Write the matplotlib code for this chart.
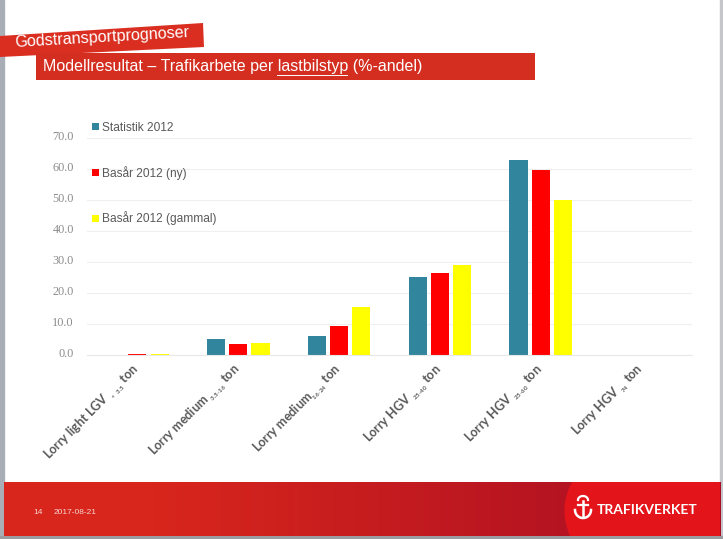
import numpy as np
import matplotlib
matplotlib.use("Agg")
import matplotlib.pyplot as plt
from matplotlib.patches import Polygon, PathPatch, Rectangle
from matplotlib.path import Path
from matplotlib.transforms import ScaledTranslation

# data
categories = ["Lorry light LGV $_{_{<\\ 3.5}}$ ton",
              "Lorry medium $_{_{3.5\\text{-}16}}$ ton",
              "Lorry medium$_{_{16\\text{-}24}}$ ton",
              "Lorry HGV $_{_{25\\text{-}40}}$ ton",
              "Lorry HGV $_{_{25\\text{-}60}}$ ton",
              "Lorry HGV $_{_{74}}$ ton"]
statistik = [0.0, 5.3, 6.2, 25.0, 62.7, 0.0]
basar_ny = [0.4, 3.5, 9.4, 26.5, 59.7, 0.0]
basar_gammal = [0.3, 4.0, 15.3, 29.0, 50.0, 0.0]
yticks = [0, 10, 20, 30, 40, 50, 60, 70]

W, H = 723, 539
plt.rcParams['mathtext.default'] = 'regular'
fig = plt.figure(figsize=(W / 100, H / 100), dpi=100)

# slide background, pixel coordinates
bg = fig.add_axes([0, 0, 1, 1], zorder=0)
bg.set_xlim(0, W)
bg.set_ylim(H, 0)
bg.axis("off")
bg.add_patch(Rectangle((0, 0), 3.5, H, color="#a9aeb6"))
bg.add_patch(Rectangle((720, 0), 3, H, color="#c4c6ca"))
bg.add_patch(Rectangle((0, 536), W, 3, color="#9a9ca2"))

# footer gradient
c1 = np.array([0.85, 0.15, 0.11])
c2 = np.array([0.66, 0.05, 0.14])
t = np.linspace(0, 1, 256)
t = np.clip((t - 0.2) / 0.8, 0, 1)[None, :, None]
grad = c1 * (1 - t) + c2 * t
bg.imshow(grad, extent=[3.5, 720, 536, 482], aspect="auto", zorder=1)
bg.set_xlim(0, W)
bg.set_ylim(H, 0)
verts = [(572, 482), (558, 508), (570, 536), (720, 536), (720, 482), (572, 482)]
codes = [Path.MOVETO, Path.CURVE3, Path.CURVE3, Path.LINETO, Path.LINETO, Path.CLOSEPOLY]
bg.add_patch(PathPatch(Path(verts, codes), fc="#e3151b", ec="none", zorder=2))
bg.text(33, 512.5, "14", color="#f5d5d0", fontsize=6, va="center", family="Liberation Sans", zorder=3)
bg.text(54, 512.5, "2017-08-21", color="#f5d5d0", fontsize=6, va="center", family="Liberation Sans", zorder=3)
bg.text(597, 510, "TRAFIKVERKET", color="white", fontsize=10, weight="bold", va="center",
        family="Lato", zorder=3)

# logo, rough crown and anchor
bg.plot([583, 583], [501, 517], color="white", lw=1.8, zorder=3)
bg.plot([578, 588], [505, 505], color="white", lw=1.6, zorder=3)
a = np.linspace(0, np.pi, 30)
bg.plot(583 + 8 * np.cos(a), 510 + 8 * np.sin(a), color="white", lw=1.8, zorder=3)
bg.plot(583 + 5 * np.cos(a), 497 - 5 * np.sin(a) * 0.8 + 3, color="white", lw=1.6, zorder=3)

# title banners
bg.add_patch(Polygon([(0, 36), (203, 23), (204, 47), (0, 57)], fc="#d92e20", ec="none", zorder=2))
bg.add_patch(Rectangle((36, 53), 499, 27, fc="#d42e20", ec="none", zorder=2))
bg.text(15, 43, "Godstransportprognoser", color="white", fontsize=11.6, rotation=3.3,
        rotation_mode="anchor", va="center", family="Liberation Sans", zorder=3)
bg.text(43, 67, "Modellresultat – Trafikarbete per lastbilstyp (%-andel)", color="white",
        fontsize=11.5, va="center", family="Liberation Sans", zorder=3)
bg.plot([277, 347], [74.5, 74.5], color="white", lw=0.7, zorder=3)

# chart
ax = fig.add_axes([87 / W, (H - 355) / H, (692 - 87) / W, (355 - 137.5) / H], zorder=1)
ax.patch.set_alpha(0)
x = np.arange(len(categories))
off = 0.221
w = 0.18
ax.bar(x - off, statistik, w, color="#31859c", label="Statistik 2012", zorder=2)
ax.bar(x, basar_ny, w, color="#ff0000", label="Basår 2012 (ny)", zorder=2)
ax.bar(x + off, basar_gammal, w, color="#ffff00", label="Basår 2012 (gammal)", zorder=2)
ax.set_xlim(-0.5, 5.5)
ax.set_ylim(0, 70)
ax.set_yticks(yticks)
ax.set_yticklabels(["%.1f" % v for v in yticks], family="Liberation Serif", fontsize=8.8, color="#8c8c8c")
ax.set_xticks(x)
ax.set_xticklabels(categories, rotation=45, ha="right", rotation_mode="anchor", family="Lato",
                   weight="bold", fontsize=9, color="#595959")
ax.tick_params(axis="both", length=0)
ax.tick_params(axis="y", pad=9.5)
ax.tick_params(axis="x", pad=6)
shift_y = ScaledTranslation(0, 1.5 / 72, fig.dpi_scale_trans)
shift_x = ScaledTranslation(-6 / 100, 2 / 100, fig.dpi_scale_trans)
for lab in ax.get_yticklabels():
    lab.set_transform(lab.get_transform() + shift_y)
for lab in ax.get_xticklabels():
    lab.set_transform(lab.get_transform() + shift_x)
ax.grid(axis="y", color="#efefef", lw=0.8, zorder=0)
for s in ["top", "left", "right"]:
    ax.spines[s].set_visible(False)
ax.spines["bottom"].set_color("#e8e8e8")
ax.legend(loc="upper left", bbox_to_anchor=(-0.007, 1.115), frameon=False, handlelength=0.55, handleheight=0.55,
          handletextpad=0.25, labelspacing=2.66, borderpad=0.3, borderaxespad=0.5,
          prop={"family": "Liberation Sans", "size": 8.6}, labelcolor="#595959")

fig.savefig("out.png", dpi=100)
